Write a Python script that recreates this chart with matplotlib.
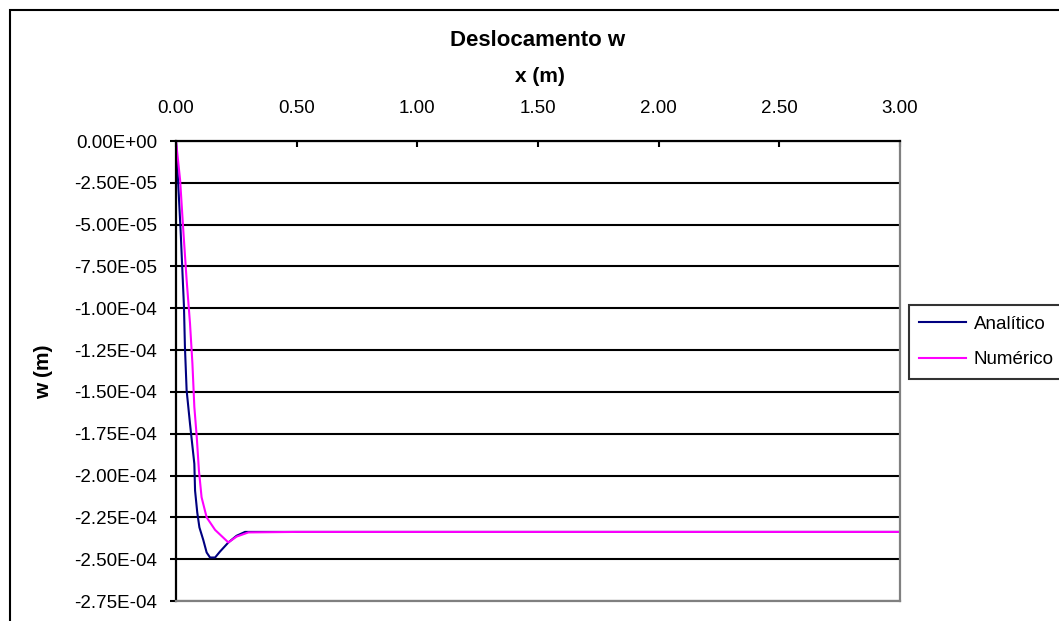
import matplotlib.pyplot as plt
from matplotlib.patches import Rectangle
from matplotlib.ticker import FuncFormatter, MultipleLocator

plt.rcParams['font.family'] = ['Liberation Sans', 'DejaVu Sans']

# x positions (m) and displacement w (m)
x_analitico = [0.0, 0.019, 0.033, 0.037, 0.044, 0.058, 0.076, 0.079, 0.088, 0.097,
               0.113, 0.127, 0.141, 0.162, 0.182, 0.217, 0.251, 0.286, 0.5, 1.0,
               1.5, 2.0, 2.5, 3.0]
w_analitico = [0.0, -0.532e-4, -0.99e-4, -1.23e-4, -1.49e-4, -1.69e-4, -1.93e-4,
               -2.09e-4, -2.22e-4, -2.31e-4, -2.385e-4, -2.46e-4, -2.49e-4, -2.49e-4,
               -2.455e-4, -2.40e-4, -2.36e-4, -2.337e-4, -2.337e-4, -2.337e-4,
               -2.337e-4, -2.337e-4, -2.337e-4, -2.337e-4]

x_numerico = [0.0, 0.017, 0.030, 0.044, 0.058, 0.068, 0.076, 0.086, 0.095, 0.106,
              0.127, 0.162, 0.217, 0.251, 0.30, 0.5, 1.0, 1.5, 2.0, 2.5, 3.0]
w_numerico = [0.0, -0.233e-4, -0.53e-4, -0.83e-4, -1.09e-4, -1.33e-4, -1.59e-4,
              -1.77e-4, -1.97e-4, -2.13e-4, -2.25e-4, -2.325e-4, -2.40e-4, -2.365e-4,
              -2.34e-4, -2.337e-4, -2.337e-4, -2.337e-4, -2.337e-4, -2.337e-4, -2.337e-4]

W, H = 1059, 621
fig = plt.figure(figsize=(W / 100, H / 100), dpi=100)
ax = fig.add_axes([176 / W, 1 - 601 / H, (900 - 176) / W, (601 - 141) / H])

# outer chart frame (right and bottom edges fall outside the image)
fig.patches.append(Rectangle((10 / W, -0.1), 1.2, 1 - 10 / H + 0.1,
                             transform=fig.transFigure, fill=False,
                             edgecolor='black', linewidth=1.5))

ax.plot(x_analitico, w_analitico, color='#000080', linewidth=1.5, label='Analítico')
ax.plot(x_numerico, w_numerico, color='#FF00FF', linewidth=1.5, label='Numérico')

ax.set_xlim(0, 3.0)
ax.set_ylim(-2.75e-4, 0)
ax.xaxis.set_major_locator(MultipleLocator(0.5))
ax.yaxis.set_major_locator(MultipleLocator(2.5e-5))
ax.xaxis.set_major_formatter(FuncFormatter(lambda v, p: f"{v:.2f}"))
ax.yaxis.set_major_formatter(FuncFormatter(lambda v, p: f"{v:.2E}".replace("-0.00", "0.00")))

ax.xaxis.tick_top()
ax.tick_params(axis='x', direction='in', length=4.5, width=1.5, pad=17,
               labelsize=13.5, colors='black')
ax.tick_params(axis='y', direction='out', length=4.5, width=1.5, pad=9,
               labelsize=13.5)

ax.grid(axis='y', color='black', linewidth=1.5)
ax.grid(axis='x', visible=False)
ax.set_axisbelow(True)

ax.spines['left'].set_color('black')
ax.spines['top'].set_color('black')
ax.spines['right'].set_color('#808080')
ax.spines['bottom'].set_color('#808080')
for s in ax.spines.values():
    s.set_linewidth(1.6)

fig.text(538 / W, 1 - 40 / H, 'Deslocamento w', ha='center', va='center',
         fontsize=16, fontweight='bold')
fig.text(540 / W, 1 - 76 / H, 'x (m)', ha='center', va='center',
         fontsize=15, fontweight='bold')
fig.text(44 / W, 1 - 372 / H, 'w (m)', ha='center', va='center', rotation=90,
         fontsize=15, fontweight='bold')

leg = fig.legend(loc='center left', bbox_to_anchor=(909 / W, 1 - 342 / H),
                 fontsize=13.5, frameon=True, fancybox=False, edgecolor='black',
                 handlelength=2.5, handletextpad=0.4, labelspacing=1.0,
                 borderpad=0.55, borderaxespad=0)
leg.get_frame().set_linewidth(1.5)

fig.savefig('out.png', dpi=100)
